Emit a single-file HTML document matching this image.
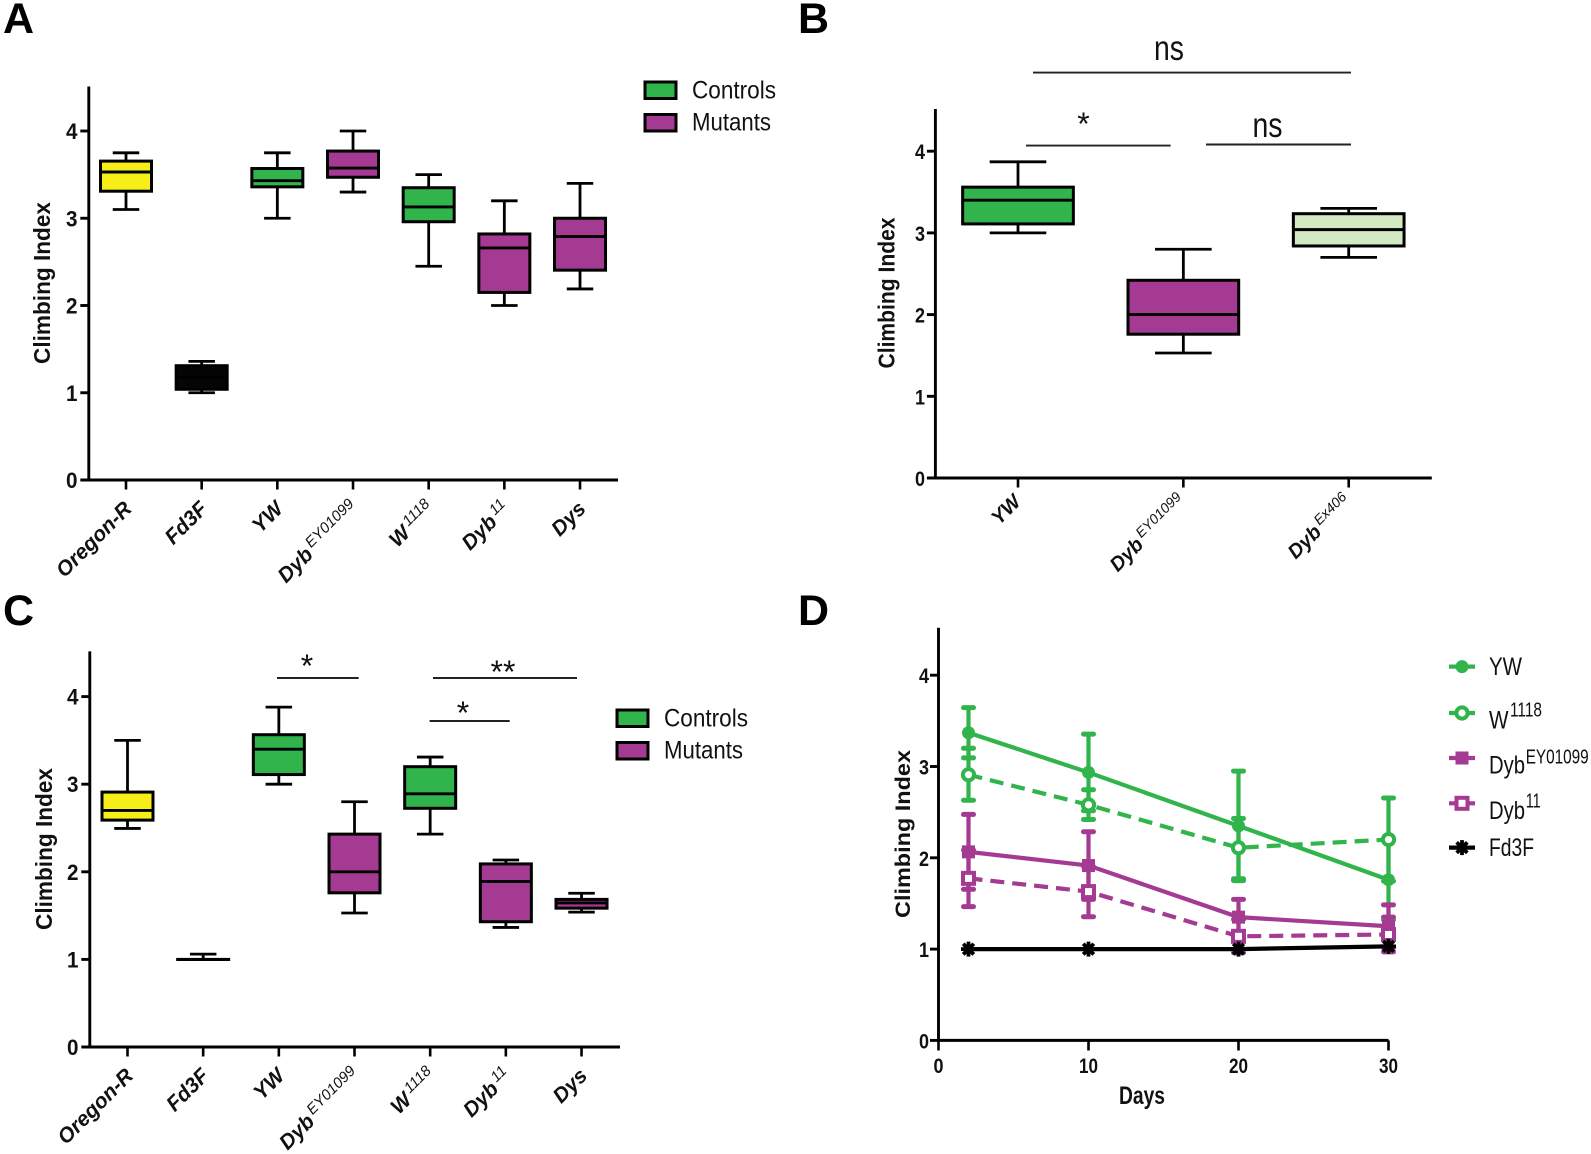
<!DOCTYPE html>
<html lang="en">
<head>
<meta charset="utf-8">
<title>Climbing Index Figure</title>
<style>
html,body{margin:0;padding:0;background:#fff;}
#figure{display:block;width:1591px;height:1154px;font-family:"Liberation Sans",sans-serif;}
.letter{font-size:43px;font-weight:bold;fill:#000;}
.ytitle{font-size:23px;font-weight:bold;fill:#111;}
.legend{font-size:25px;fill:#111;}
.sig{font-size:35px;fill:#111;}
.star{font-size:32px;fill:#111;}
.sigline{stroke:#222;stroke-width:1.9;}
.swatch{stroke:#000;stroke-width:3;}
</style>
</head>
<body>
<svg id="figure" xmlns="http://www.w3.org/2000/svg" width="1591" height="1154" viewBox="0 0 1591 1154">
  <rect width="1591" height="1154" fill="#fff"/>
  <text class="letter" x="3" y="33">A</text>
  <text class="letter" x="798" y="33">B</text>
  <text class="letter" x="3" y="625">C</text>
  <text class="letter" x="798" y="625">D</text>

  <g id="panel-a">
    <text class="ytitle" text-anchor="middle" transform="translate(50,283) rotate(-90)" textLength="162" lengthAdjust="spacingAndGlyphs">Climbing Index</text>
    <rect class="swatch" x="645" y="82" width="31" height="16.5" fill="#31b44b"/>
    <text class="legend" x="692" y="98.5" textLength="84" lengthAdjust="spacingAndGlyphs">Controls</text>
    <rect class="swatch" x="645" y="114.5" width="31" height="16.5" fill="#a43a92"/>
    <text class="legend" x="692" y="130.5" textLength="79" lengthAdjust="spacingAndGlyphs">Mutants</text>
  </g>

  <g id="panel-b">
    <text class="ytitle" text-anchor="middle" transform="translate(894.5,293) rotate(-90)" textLength="151" lengthAdjust="spacingAndGlyphs">Climbing Index</text>
    <line class="sigline" x1="1033" y1="72.6" x2="1351" y2="72.6"/>
    <text class="sig" text-anchor="middle" x="1169" y="60" textLength="30" lengthAdjust="spacingAndGlyphs">ns</text>
    <line class="sigline" x1="1026" y1="145.6" x2="1170.6" y2="145.6"/>
    <text class="star" text-anchor="middle" x="1083.5" y="135">*</text>
    <line class="sigline" x1="1206" y1="144.5" x2="1351" y2="144.5"/>
    <text class="sig" text-anchor="middle" x="1267.5" y="137" textLength="30" lengthAdjust="spacingAndGlyphs">ns</text>
  </g>

  <g id="panel-c">
    <text class="ytitle" text-anchor="middle" transform="translate(52,849) rotate(-90)" textLength="162" lengthAdjust="spacingAndGlyphs">Climbing Index</text>
    <rect class="swatch" x="617" y="710" width="31" height="16.5" fill="#31b44b"/>
    <text class="legend" x="664" y="726.5" textLength="84" lengthAdjust="spacingAndGlyphs">Controls</text>
    <rect class="swatch" x="617" y="742.5" width="31" height="16.5" fill="#a43a92"/>
    <text class="legend" x="664" y="758.5" textLength="79" lengthAdjust="spacingAndGlyphs">Mutants</text>
    <line class="sigline" x1="277" y1="678" x2="358.7" y2="678"/>
    <text class="star" text-anchor="middle" x="307" y="677">*</text>
    <line class="sigline" x1="433" y1="678" x2="577" y2="678"/>
    <text class="star" text-anchor="middle" x="503" y="683">**</text>
    <line class="sigline" x1="429.6" y1="721" x2="509.7" y2="721"/>
    <text class="star" text-anchor="middle" x="463" y="724">*</text>
  </g>

  <g id="panel-d">
    <text class="ytitle" style="font-size:21px" text-anchor="middle" transform="translate(910,834) rotate(-90)" textLength="168" lengthAdjust="spacingAndGlyphs">Climbing Index</text>
    <text font-size="25" font-weight="bold" fill="#111" text-anchor="middle" x="1142" y="1104" textLength="46" lengthAdjust="spacingAndGlyphs">Days</text>
    <text class="legend" x="1489" y="675" textLength="33" lengthAdjust="spacingAndGlyphs">YW</text>
    <text class="legend" x="1489" y="728.5" textLength="19.5" lengthAdjust="spacingAndGlyphs">W</text>
    <text class="legend" style="font-size:20px" x="1510" y="716.6" textLength="32" lengthAdjust="spacingAndGlyphs">1118</text>
    <text class="legend" x="1489" y="773.5" textLength="36" lengthAdjust="spacingAndGlyphs">Dyb</text>
    <text class="legend" style="font-size:20px" x="1525.7" y="763.4" textLength="63" lengthAdjust="spacingAndGlyphs">EY01099</text>
    <text class="legend" x="1489" y="818.8" textLength="36" lengthAdjust="spacingAndGlyphs">Dyb</text>
    <text class="legend" style="font-size:20px" x="1525.7" y="807.6" textLength="15" lengthAdjust="spacingAndGlyphs">11</text>
    <text class="legend" x="1489" y="856" textLength="45" lengthAdjust="spacingAndGlyphs">Fd3F</text>
  </g>
</svg>
<script>
// ---- Data ----
const yTickLabels = [0, 1, 2, 3, 4];

const panelACategories = ['Oregon-R', 'Fd3F', 'YW', 'Dyb', 'W', 'Dyb', 'Dys'];
const panelASuperscripts = ['', '', '', 'EY01099', '1118', '11', ''];
const panelAGroups = ['yellow', 'black', 'control', 'mutant', 'control', 'mutant', 'mutant'];
const panelAHigh = [3.75, 1.36, 3.75, 4.0, 3.5, 3.2, 3.4];
const panelAQ3 = [3.655, 1.31, 3.57, 3.77, 3.35, 2.82, 3.0];
const panelAMedian = [3.53, 1.18, 3.43, 3.575, 3.13, 2.66, 2.79];
const panelAQ1 = [3.31, 1.04, 3.36, 3.47, 2.96, 2.15, 2.405];
const panelALow = [3.1, 1.0, 3.0, 3.3, 2.45, 2.0, 2.19];

const panelBCategories = ['YW', 'Dyb', 'Dyb'];
const panelBSuperscripts = ['', 'EY01099', 'Ex406'];
const panelBGroups = ['control', 'mutant', 'pale'];
const panelBHigh = [3.87, 2.8, 3.3];
const panelBQ3 = [3.56, 2.42, 3.235];
const panelBMedian = [3.4, 2.0, 3.04];
const panelBQ1 = [3.11, 1.76, 2.84];
const panelBLow = [3.0, 1.53, 2.7];

const panelCCategories = ['Oregon-R', 'Fd3F', 'YW', 'Dyb', 'W', 'Dyb', 'Dys'];
const panelCSuperscripts = ['', '', '', 'EY01099', '1118', '11', ''];
const panelCGroups = ['yellow', 'black', 'control', 'mutant', 'control', 'mutant', 'mutant'];
const panelCHigh = [3.5, 1.06, 3.88, 2.8, 3.31, 2.135, 1.755];
const panelCQ3 = [2.91, 1.0, 3.565, 2.43, 3.2, 2.09, 1.685];
const panelCMedian = [2.7, 1.0, 3.4, 2.0, 2.89, 1.89, 1.645];
const panelCQ1 = [2.59, 1.0, 3.11, 1.76, 2.725, 1.43, 1.585];
const panelCLow = [2.495, 1.0, 3.0, 1.53, 2.43, 1.365, 1.54];

const panelDDays = [2, 10, 20, 30];
const panelDXTicks = [0, 10, 20, 30];
const ywMean = [3.37, 2.935, 2.35, 1.76];
const ywUpper = [3.645, 3.355, 2.95, 2.2];
const ywLower = [3.095, 2.515, 1.75, 1.32];
const w1118Mean = [2.91, 2.58, 2.11, 2.2];
const w1118Upper = [3.2, 2.745, 2.43, 2.655];
const w1118Lower = [2.63, 2.42, 1.77, 1.745];
const dybEyMean = [2.065, 1.915, 1.35, 1.25];
const dybEyUpper = [2.475, 2.285, 1.545, 1.485];
const dybEyLower = [1.655, 1.545, 1.155, 1.015];
const dyb11Mean = [1.775, 1.63, 1.14, 1.16];
const dyb11Upper = [2.085, 1.905, 1.325, 1.35];
const dyb11Lower = [1.465, 1.355, 0.96, 0.97];
const fd3fMean = [1.0, 1.0, 1.0, 1.03];

// ---- Helpers ----
const NS = 'http://www.w3.org/2000/svg';
const FILLS = {yellow: '#f5ee18', black: '#050505', control: '#31b44b', mutant: '#a43a92', pale: '#d3e9c4'};
const GREEN = FILLS.control;
const PURPLE = FILLS.mutant;

function make(parent, tag, attrs, name) {
  const el = document.createElementNS(NS, tag);
  for (const k in attrs) el.setAttribute(k, attrs[k]);
  
  
  parent.appendChild(el);
  return el;
}
function hLine(g, x1, x2, y, w, color, name, cap) {
  return make(g, 'line', {x1: x1, x2: x2, y1: y, y2: y, stroke: color, 'stroke-width': w, 'stroke-linecap': cap || 'butt'}, name);
}
function vLine(g, x, y1, y2, w, color, name, cap) {
  return make(g, 'line', {x1: x, x2: x, y1: y1, y2: y2, stroke: color, 'stroke-width': w, 'stroke-linecap': cap || 'butt'}, name);
}

function drawYAxis(g, prefix, axisX, top, bottom, yScale, labelRight, labelLen, fontSize) {
  vLine(g, axisX, top, bottom + 1.3, 2.9, '#000', prefix + '-y-axis-line');
  yTickLabels.forEach(function (t) {
    const y = yScale(t);
    hLine(g, axisX - 8.5, axisX, y, 2.9, '#000', prefix + '-y-tick-' + t);
    const label = make(g, 'text', {x: labelRight, y: y + 8, 'text-anchor': 'end', 'font-size': fontSize, 'font-weight': 'bold', fill: '#111', textLength: labelLen, lengthAdjust: 'spacingAndGlyphs'}, prefix + '-y-tick-label-' + t);
    label.textContent = String(t);
  });
}

function drawCategoryAxis(g, prefix, left, right, y0, xScale, categories, superscripts, labelDx, labelY, fontSize) {
  hLine(g, left, right, y0, 3, '#000', prefix + '-x-axis-line');
  categories.forEach(function (c, i) {
    const x = xScale(i);
    vLine(g, x, y0, y0 + 9.5, 2.6, '#000', prefix + '-x-tick-' + i);
    const label = make(g, 'text', {'text-anchor': 'end', 'font-size': fontSize, 'font-weight': 'bold', 'font-style': 'italic', fill: '#111', transform: 'translate(' + (x + labelDx) + ',' + labelY + ') rotate(-45)'}, prefix + '-x-tick-label-' + i);
    label.appendChild(document.createTextNode(c));
    if (superscripts[i]) {
      const sup = make(label, 'tspan', {dx: 3, dy: -7.5, 'font-size': fontSize - 6, 'font-weight': 'normal'}, prefix + '-x-tick-superscript-' + i);
      sup.textContent = superscripts[i];
    }
  });
}

function drawBoxes(g, prefix, xScale, yScale, boxW, capW, categories, groups, high, q3, med, q1, low) {
  categories.forEach(function (c, i) {
    const x = xScale(i);
    const box = make(g, 'g', {}, prefix + '-box-' + i);
    vLine(box, x, yScale(high[i]), yScale(low[i]), 2.8, '#000', prefix + '-whisker-' + i);
    hLine(box, x - capW / 2, x + capW / 2, yScale(high[i]), 2.8, '#000', prefix + '-whisker-cap-high-' + i);
    hLine(box, x - capW / 2, x + capW / 2, yScale(low[i]), 2.8, '#000', prefix + '-whisker-cap-low-' + i);
    make(box, 'rect', {x: x - boxW / 2, y: yScale(q3[i]), width: boxW, height: Math.max(0.1, yScale(q1[i]) - yScale(q3[i])), fill: FILLS[groups[i]], stroke: '#000', 'stroke-width': 3}, prefix + '-box-body-' + i);
    hLine(box, x - boxW / 2, x + boxW / 2, yScale(med[i]), 2.9, '#000', prefix + '-median-' + i);
  });
}

function drawMarker(g, kind, x, y, color, name) {
  if (kind === 'filled-circle') {
    make(g, 'circle', {cx: x, cy: y, r: 6.5, fill: color}, name);
  } else if (kind === 'open-circle') {
    make(g, 'circle', {cx: x, cy: y, r: 5.6, fill: '#fff', stroke: color, 'stroke-width': 4}, name);
  } else if (kind === 'filled-square') {
    make(g, 'rect', {x: x - 6.5, y: y - 6.5, width: 13, height: 13, fill: color}, name);
  } else if (kind === 'open-square') {
    make(g, 'rect', {x: x - 5.5, y: y - 5.5, width: 11, height: 11, fill: '#fff', stroke: color, 'stroke-width': 4}, name);
  } else {
    const star = make(g, 'g', {}, name);
    [0, 45, 90, 135].forEach(function (deg) {
      const a = deg * Math.PI / 180;
      make(star, 'line', {x1: x - 7.5 * Math.cos(a), y1: y - 7.5 * Math.sin(a), x2: x + 7.5 * Math.cos(a), y2: y + 7.5 * Math.sin(a), stroke: color, 'stroke-width': 3.8}, name + '-spoke');
    });
  }
}

function drawSeries(g, prefix, xScale, yScale, days, mean, upper, lower, color, marker, dash) {
  const s = make(g, 'g', {}, prefix + '-series');
  if (upper && lower) {
    days.forEach(function (d, i) {
      const x = xScale(d);
      vLine(s, x, yScale(upper[i]), yScale(lower[i]), 4.2, color, prefix + '-error-bar-' + d);
      hLine(s, x - 5, x + 5, yScale(upper[i]), 5, color, prefix + '-error-cap-upper-' + d, 'round');
      hLine(s, x - 5, x + 5, yScale(lower[i]), 5, color, prefix + '-error-cap-lower-' + d, 'round');
    });
  }
  const pts = days.map(function (d, i) { return xScale(d) + ',' + yScale(mean[i]); }).join(' ');
  const attrs = {points: pts, fill: 'none', stroke: color, 'stroke-width': 4.2};
  if (dash) attrs['stroke-dasharray'] = '14 8';
  make(s, 'polyline', attrs, prefix + '-line');
  days.forEach(function (d, i) {
    drawMarker(s, marker, xScale(d), yScale(mean[i]), color, prefix + '-point-' + d);
  });
}

// ---- Panel A ----
const yA = function (v) { return 480 - v * 87.25; };
const xA = function (i) { return 126 + i * 75.67; };
const gA = document.getElementById('panel-a');
drawYAxis(gA, 'panel-a', 88.8, 86.5, 480, yA, 77.5, 11.5, 22);
drawCategoryAxis(gA, 'panel-a', 80.6, 618, 480, xA, panelACategories, panelASuperscripts, 7, 510, 21);
drawBoxes(gA, 'panel-a', xA, yA, 51, 26.5, panelACategories, panelAGroups, panelAHigh, panelAQ3, panelAMedian, panelAQ1, panelALow);

// ---- Panel B ----
const yB = function (v) { return 478 - v * 81.7; };
const xB = function (i) { return 1018 + i * 165.35; };
const gB = document.getElementById('panel-b');
drawYAxis(gB, 'panel-b', 935.4, 109, 478, yB, 925, 10, 21);
drawCategoryAxis(gB, 'panel-b', 927.8, 1431.8, 478, xB, panelBCategories, panelBSuperscripts, 4, 503, 20);
drawBoxes(gB, 'panel-b', xB, yB, 110.7, 56.6, panelBCategories, panelBGroups, panelBHigh, panelBQ3, panelBMedian, panelBQ1, panelBLow);

// ---- Panel C ----
const yC = function (v) { return 1047 - v * 87.6; };
const xC = function (i) { return 127.5 + i * 75.67; };
const gC = document.getElementById('panel-c');
drawYAxis(gC, 'panel-c', 89.8, 651.4, 1047, yC, 78.5, 11.5, 22);
drawCategoryAxis(gC, 'panel-c', 81.6, 620, 1047, xC, panelCCategories, panelCSuperscripts, 7, 1077, 21);
drawBoxes(gC, 'panel-c', xC, yC, 51, 26.5, panelCCategories, panelCGroups, panelCHigh, panelCQ3, panelCMedian, panelCQ1, panelCLow);

// ---- Panel D ----
const yD = function (v) { return 1040.4 - v * 91.3; };
const xD = function (d) { return 938.5 + d * 15; };
const gD = document.getElementById('panel-d');
drawYAxis(gD, 'panel-d', 938.5, 627.8, 1040.4, yD, 929, 10, 21);
hLine(gD, 938.5, 1388.5, 1040.4, 3, '#000', 'panel-d-x-axis-line');
panelDXTicks.forEach(function (t) {
  vLine(gD, xD(t), 1040.4, 1050.5, 2.6, '#000', 'panel-d-x-tick-' + t);
  const label = make(gD, 'text', {x: xD(t), y: 1073, 'text-anchor': 'middle', 'font-size': 21, 'font-weight': 'bold', fill: '#111', textLength: t === 0 ? 10 : 19, lengthAdjust: 'spacingAndGlyphs'}, 'panel-d-x-tick-label-' + t);
  label.textContent = String(t);
});
drawSeries(gD, 'yw', xD, yD, panelDDays, ywMean, ywUpper, ywLower, GREEN, 'filled-circle', false);
drawSeries(gD, 'w1118', xD, yD, panelDDays, w1118Mean, w1118Upper, w1118Lower, GREEN, 'open-circle', true);
drawSeries(gD, 'dyb-ey01099', xD, yD, panelDDays, dybEyMean, dybEyUpper, dybEyLower, PURPLE, 'filled-square', false);
drawSeries(gD, 'dyb-11', xD, yD, panelDDays, dyb11Mean, dyb11Upper, dyb11Lower, PURPLE, 'open-square', true);
drawSeries(gD, 'fd3f', xD, yD, panelDDays, fd3fMean, null, null, '#000', 'star', false);

// Legend samples
function legendSample(y, color, marker, name) {
  hLine(gD, 1449, 1475, y, 4.2, color, name + '-line');
  drawMarker(gD, marker, 1462, y, color, name + '-marker');
}
legendSample(666.6, GREEN, 'filled-circle', 'panel-d-legend-sample-yw');
legendSample(713, GREEN, 'open-circle', 'panel-d-legend-sample-w1118');
legendSample(758, PURPLE, 'filled-square', 'panel-d-legend-sample-dyb-ey');
legendSample(803.3, PURPLE, 'open-square', 'panel-d-legend-sample-dyb-11');
legendSample(847.6, '#000', 'star', 'panel-d-legend-sample-fd3f');
</script>
</body>
</html>
